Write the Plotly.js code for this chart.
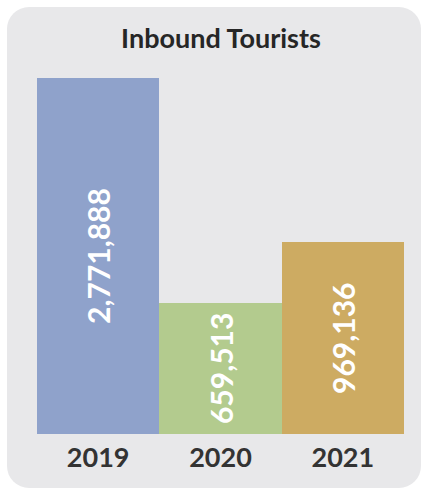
<!DOCTYPE html>
<html>
<head>
<meta charset="utf-8">
<script src="https://cdn.plot.ly/plotly-3.0.1.min.js"></script>
<style>
  html, body { margin: 0; padding: 0; background: #ffffff; }
  #wrap { position: relative; width: 424px; height: 490px; }
  #panel { position: absolute; left: 7px; top: 7px; width: 414px; height: 481px;
           background: #e8e8ea; border-radius: 22px; }
  #chart { position: absolute; left: 0; top: 0; width: 424px; height: 490px; }
</style>
</head>
<body>
<div id="wrap">
  <div id="panel"></div>
  <div id="chart"></div>
</div>
<script>
const years = ["2019", "2020", "2021"];
const tourists = [2771888, 659513, 969136];
const labels = ["2,771,888", "659,513", "969,136"];
const barColors = ["#8fa2cb", "#b3cb8e", "#cdab62"];

const trace = {
  type: "bar",
  x: years,
  y: tourists,
  text: labels,
  textposition: "inside",
  insidetextanchor: "middle",
  textangle: -90,
  textfont: { family: "Lato, sans-serif", size: 30, color: "#ffffff", weight: "bold" },
  marker: { color: barColors, line: { width: 0 } },
  hoverinfo: "none",
  cliponaxis: false
};

const layout = {
  width: 424,
  height: 490,
  margin: { l: 37, r: 20, t: 78, b: 56 },
  paper_bgcolor: "rgba(0,0,0,0)",
  plot_bgcolor: "rgba(0,0,0,0)",
  bargap: 0,
  showlegend: false,
  title: {
    text: "<b>Inbound Tourists</b>",
    font: { family: "Lato, sans-serif", size: 27, color: "#262626" },
    x: 221 / 424, xanchor: "center", xref: "paper",
    y: 1 - 39 / 490, yanchor: "middle", yref: "container"
  },
  xaxis: {
    type: "category",
    showgrid: false, zeroline: false, showline: false,
    ticks: "",
    tickfont: { family: "Lato, sans-serif", size: 27, color: "#333333", weight: "bold" },
    ticklabelstandoff: 5
  },
  yaxis: {
    type: "log",
    range: [5.455, Math.log10(2771888)],
    visible: false,
    showgrid: false, zeroline: false
  }
};
layout.title.xref = "container";

Plotly.newPlot("chart", [trace], layout, { displayModeBar: false, staticPlot: true });
</script>
</body>
</html>
